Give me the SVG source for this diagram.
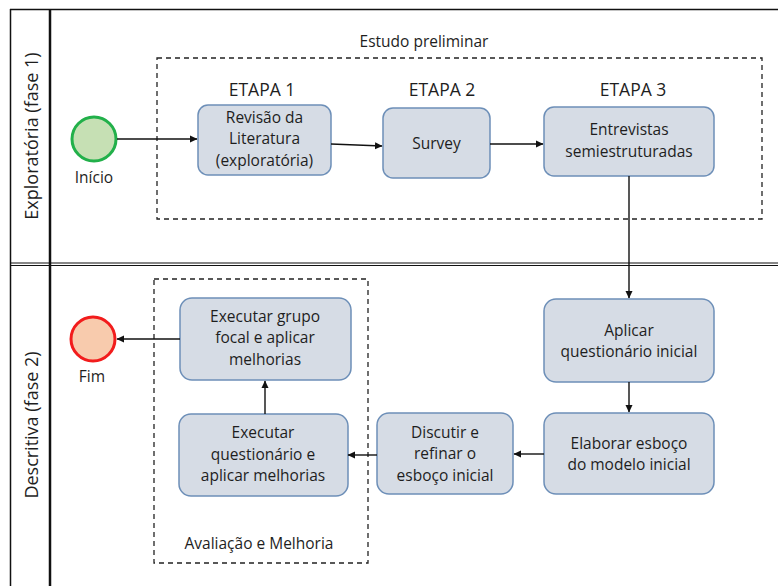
<svg xmlns="http://www.w3.org/2000/svg" width="778" height="586" viewBox="0 0 778 586">
<defs>
<marker id="ah" markerWidth="8" markerHeight="8" refX="7" refY="4" orient="auto" markerUnits="userSpaceOnUse">
<path d="M0,0.5 L7.5,4 L0,7.5 Z" fill="#111"/>
</marker>
<style>
text{font-family:"Open Sans","Liberation Sans",sans-serif;fill:#1e1e1e;text-anchor:middle}
.t{font-size:15.5px}
.et{font-size:17.5px}
.lane{font-size:18px}
.box{fill:#d6dce5;stroke:#6d8fb8;stroke-width:1.5}
.dash{fill:none;stroke:#222;stroke-width:1.3;stroke-dasharray:5,4}
.c{fill:none;stroke:#111;stroke-width:1.4;marker-end:url(#ah)}
.fr{stroke:#111;fill:none}
</style>
</defs>
<rect width="778" height="586" fill="#fff"/>
<g id="pool">
<line class="fr" x1="10" y1="9.5" x2="778" y2="9.5" stroke-width="1.5"/>
<line class="fr" x1="10.5" y1="9" x2="10.5" y2="586" stroke-width="1.5"/>
<line class="fr" x1="50" y1="9" x2="50" y2="586" stroke-width="2.5"/>
<line class="fr" x1="10" y1="263" x2="778" y2="263" stroke-width="1.2"/>
<line class="fr" x1="10" y1="265.5" x2="778" y2="265.5" stroke-width="1.2"/>
<text class="lane" transform="translate(38,136) rotate(-90)">Exploratória (fase 1)</text>
<text class="lane" transform="translate(38,425) rotate(-90)">Descritiva (fase 2)</text>
</g>
<g id="estudo">
<rect class="dash" x="157" y="58" width="605" height="161"/>
<text class="t" x="424" y="47">Estudo preliminar</text>
</g>
<g id="avaliacao">
<rect class="dash" x="154" y="279" width="214" height="284"/>
<text class="t" x="259" y="549">Avaliação e Melhoria</text>
</g>
<g id="inicio">
<circle cx="94" cy="139" r="22" fill="#c6e0b4" stroke="#22b04a" stroke-width="3"/>
<text class="t" x="94" y="183">Início</text>
</g>
<g id="fim">
<circle cx="93" cy="339" r="22" fill="#f8cbad" stroke="#f21c1c" stroke-width="3"/>
<text class="t" x="92" y="382">Fim</text>
</g>
<g id="etapa1">
<text class="et" x="262" y="96">ETAPA 1</text>
<rect class="box" x="198" y="105" width="133" height="70" rx="10"/>
<text class="t" x="264.5" y="123">Revisão da</text>
<text class="t" x="264.5" y="144">Literatura</text>
<text class="t" x="264.5" y="166">(exploratória)</text>
</g>
<g id="etapa2">
<text class="et" x="442" y="96">ETAPA 2</text>
<rect class="box" x="383" y="108" width="107" height="70" rx="10"/>
<text class="t" x="436.5" y="149">Survey</text>
</g>
<g id="etapa3">
<text class="et" x="633" y="96">ETAPA 3</text>
<rect class="box" x="544" y="107" width="170" height="69" rx="10"/>
<text class="t" x="629" y="135">Entrevistas</text>
<text class="t" x="629" y="157">semiestruturadas</text>
</g>
<g id="aplicar">
<rect class="box" x="544" y="299" width="170" height="83" rx="12"/>
<text class="t" x="629" y="336">Aplicar</text>
<text class="t" x="629" y="357">questionário inicial</text>
</g>
<g id="elaborar">
<rect class="box" x="544" y="413" width="170" height="81" rx="12"/>
<text class="t" x="629" y="449">Elaborar esboço</text>
<text class="t" x="629" y="470">do modelo inicial</text>
</g>
<g id="discutir">
<rect class="box" x="377" y="413" width="136" height="81" rx="12"/>
<text class="t" x="445" y="438">Discutir e</text>
<text class="t" x="445" y="459">refinar o</text>
<text class="t" x="445" y="481">esboço inicial</text>
</g>
<g id="executar-questionario">
<rect class="box" x="179" y="414" width="169" height="82" rx="12"/>
<text class="t" x="263" y="438">Executar</text>
<text class="t" x="263" y="460">questionário e</text>
<text class="t" x="263" y="481">aplicar melhorias</text>
</g>
<g id="executar-grupo">
<rect class="box" x="180" y="298" width="171" height="82" rx="12"/>
<text class="t" x="265" y="322">Executar grupo</text>
<text class="t" x="265" y="343">focal e aplicar</text>
<text class="t" x="265" y="365">melhorias</text>
</g>
<g id="connectors">
<line class="c" x1="117" y1="139" x2="197" y2="139"/>
<line class="c" x1="331" y1="144" x2="382" y2="146"/>
<line class="c" x1="490" y1="144" x2="543" y2="144"/>
<line class="c" x1="629" y1="176" x2="629" y2="298"/>
<line class="c" x1="629" y1="382" x2="629" y2="412"/>
<line class="c" x1="544" y1="454" x2="514" y2="454"/>
<line class="c" x1="377" y1="455" x2="348" y2="455"/>
<line class="c" x1="265" y1="414" x2="265" y2="381"/>
<line class="c" x1="180" y1="339" x2="117" y2="339"/>
</g>
</svg>
